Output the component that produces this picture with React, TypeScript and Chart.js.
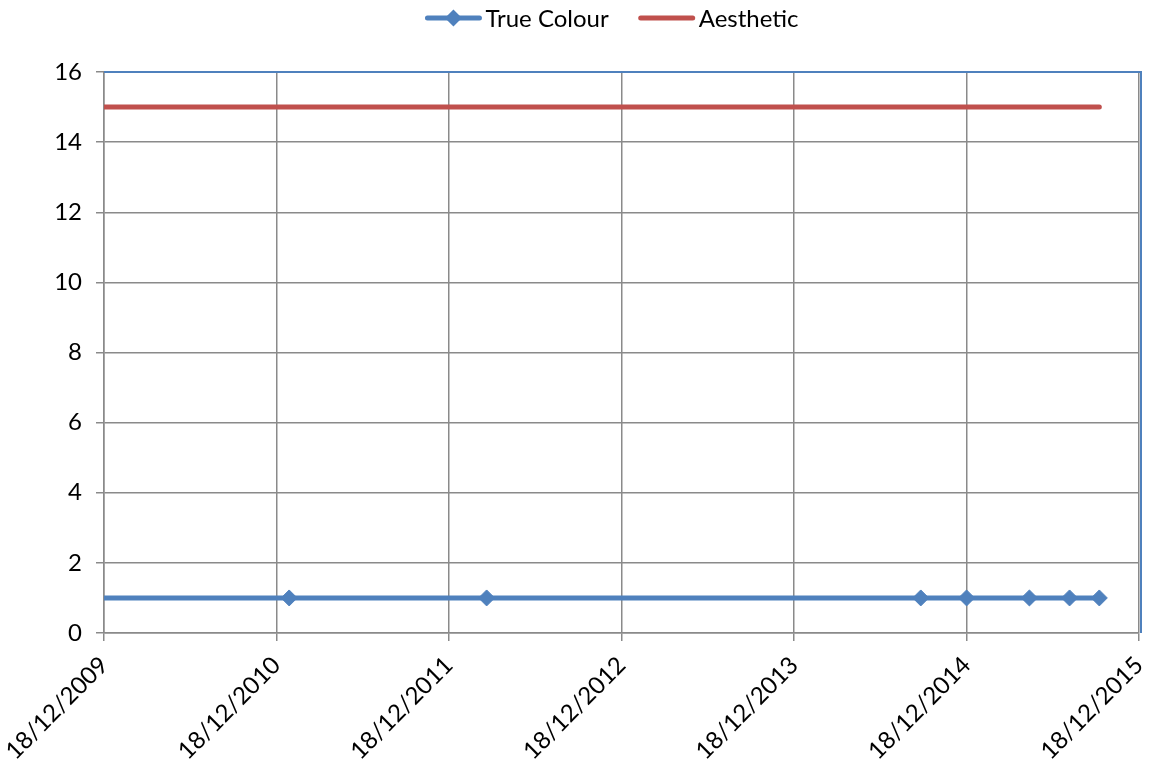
import React, { useEffect, useRef } from 'react';
import { Chart, registerables } from 'chart.js';

Chart.register(...registerables);

// ---- data ----
const trueColourDates = ['2009-12-18', '2011-01-14', '2012-03-07', '2014-09-12', '2014-12-18', '2015-04-30', '2015-07-24', '2015-09-25'];
const trueColourValues = [1, 1, 1, 1, 1, 1, 1, 1];
const trueColourMarker = [false, true, true, true, true, true, true, true];
const aestheticDates = ['2009-12-18', '2015-09-25'];
const aestheticValues = [15, 15];
const xTickDates = ['2009-12-18', '2010-12-18', '2011-12-18', '2012-12-18', '2013-12-18', '2014-12-18', '2015-12-18'];
const yMin = 0;
const yMax = 16;
const yStep = 2;
const seriesNames = ['True Colour', 'Aesthetic'];

const BLUE = '#4F81BD';
const RED = '#C0504D';
const GRID = '#8a8a8a';
const FONT = 'Lato, "Noto Sans", sans-serif';

const toMs = (d: string) => Date.parse(d + 'T00:00:00Z');
const fmt = (ms: number) => {
  const d = new Date(ms);
  const dd = String(d.getUTCDate()).padStart(2, '0');
  const mm = String(d.getUTCMonth() + 1).padStart(2, '0');
  return `${dd}/${mm}/${d.getUTCFullYear()}`;
};

// custom legend: line symbol (with diamond marker for series with markers) + text
const legendPlugin = {
  id: 'excelLegend',
  afterDraw(chart: any) {
    const { ctx } = chart;
    const fontSize = 24;
    const symW = 56;
    const symGap = 4;
    const itemGap = 30;
    const centerX = 612;
    const cy = 18;
    ctx.save();
    ctx.font = `${fontSize}px ${FONT}`;
    const items = chart.data.datasets.map((ds: any, i: number) => ({
      text: ds.label,
      color: ds.borderColor,
      diamond: i === 0,
      w: ctx.measureText(ds.label).width,
    }));
    const total = items.reduce((s: number, it: any) => s + symW + symGap + it.w, 0) + itemGap * (items.length - 1);
    let x = centerX - total / 2;
    for (const it of items) {
      ctx.strokeStyle = it.color;
      ctx.lineWidth = 5;
      ctx.lineCap = 'round';
      ctx.beginPath();
      ctx.moveTo(x + 2, cy);
      ctx.lineTo(x + symW - 2, cy);
      ctx.stroke();
      if (it.diamond) {
        const mx = x + symW / 2;
        ctx.fillStyle = it.color;
        ctx.beginPath();
        ctx.moveTo(mx, cy - 8.5);
        ctx.lineTo(mx + 8.5, cy);
        ctx.lineTo(mx, cy + 8.5);
        ctx.lineTo(mx - 8.5, cy);
        ctx.closePath();
        ctx.fill();
      }
      ctx.fillStyle = '#000';
      ctx.textBaseline = 'middle';
      ctx.textAlign = 'left';
      ctx.fillText(it.text, x + symW + symGap, cy + 1);
      x += symW + symGap + it.w + itemGap;
    }
    ctx.restore();
  },
};

const borderPlugin = {
  id: 'blueBorder',
  afterDatasetsDraw(chart: any) {
    const { ctx, chartArea } = chart;
    ctx.save();
    ctx.strokeStyle = BLUE;
    ctx.lineWidth = 2;
    ctx.beginPath();
    ctx.moveTo(chartArea.left, chartArea.top);
    ctx.lineTo(chartArea.right + 2, chartArea.top);
    ctx.lineTo(chartArea.right + 2, chartArea.bottom);
    ctx.stroke();
    ctx.restore();
  },
};

export default function App() {
  const ref = useRef<HTMLCanvasElement>(null);
  useEffect(() => {
    document.body.style.margin = '0';
    const chart = new Chart(ref.current!, {
      type: 'line',
      data: {
        datasets: [
          {
            label: seriesNames[0],
            data: trueColourDates.map((d, i) => ({ x: toMs(d), y: trueColourValues[i] })),
            borderColor: BLUE,
            backgroundColor: BLUE,
            borderWidth: 5,
            pointStyle: 'rectRot',
            pointRadius: trueColourMarker.map((m) => (m ? 8 : 0)),
            pointBackgroundColor: BLUE,
            pointBorderColor: BLUE,
            pointBorderWidth: 1,
            tension: 0,
          },
          {
            label: seriesNames[1],
            data: aestheticDates.map((d, i) => ({ x: toMs(d), y: aestheticValues[i] })),
            borderColor: RED,
            backgroundColor: RED,
            borderWidth: 5,
            borderCapStyle: 'round',
            pointRadius: 0,
            tension: 0,
          },
        ],
      },
      options: {
        animation: false,
        responsive: true,
        maintainAspectRatio: false,
        layout: { padding: { top: 72, right: 0, left: 0, bottom: 0 } },
        plugins: {
          tooltip: { enabled: false },
          legend: { display: false },
        },
        scales: {
          x: {
            type: 'linear',
            min: toMs(xTickDates[0]),
            max: toMs(xTickDates[xTickDates.length - 1]),
            afterBuildTicks: (axis: any) => {
              axis.ticks = xTickDates.map((d) => ({ value: toMs(d) }));
            },
            afterFit: (axis: any) => {
              axis.height = 132;
              axis.paddingLeft = 0;
              axis.paddingRight = 10;
            },
            ticks: {
              autoSkip: false,
              maxRotation: 45,
              minRotation: 45,
              color: '#000',
              padding: 10,
              font: { family: FONT, size: 24 },
              callback: (v: any) => fmt(Number(v)),
            },
            grid: { color: GRID, lineWidth: 1.5, tickLength: 8, drawTicks: true },
            border: { color: GRID, width: 1.5 },
          },
          y: {
            min: yMin,
            max: yMax,
            afterFit: (axis: any) => {
              axis.width = 104;
              axis.paddingTop = 0;
              axis.paddingBottom = 0;
            },
            ticks: {
              stepSize: yStep,
              color: '#000',
              padding: 14,
              font: { family: FONT, size: 24 },
            },
            grid: { color: GRID, lineWidth: 1.5, tickLength: 8 },
            border: { color: GRID, width: 1.5 },
          },
        },
      },
      plugins: [borderPlugin, legendPlugin],
    });
    return () => chart.destroy();
  }, []);
  return (
    <div style={{ width: 1149, height: 765, position: 'relative' }}>
      <canvas ref={ref} />
    </div>
  );
}
